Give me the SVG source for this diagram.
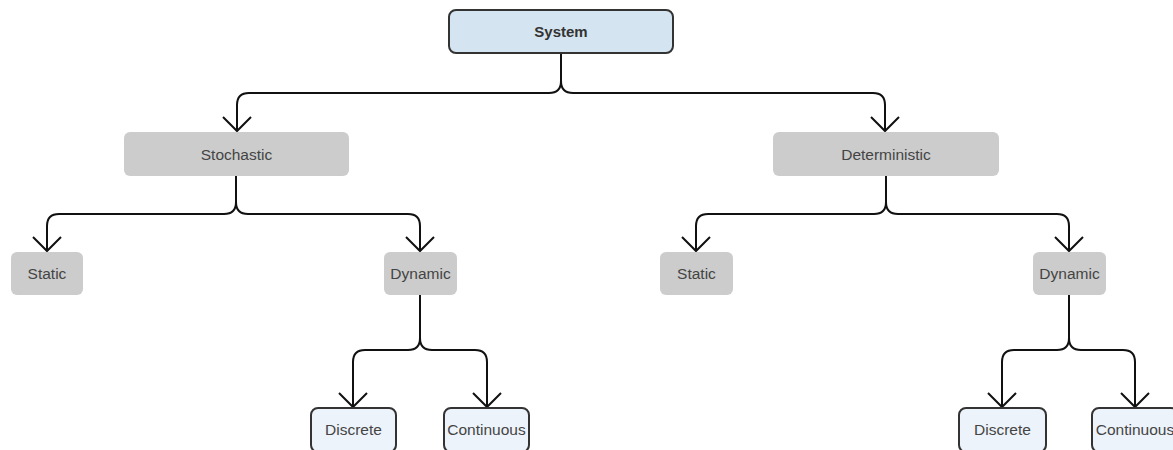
<svg xmlns="http://www.w3.org/2000/svg" width="1173" height="450" viewBox="0 0 1173 450">
<style>
.gray{fill:#cccccc;stroke:none}
.blue{fill:#d5e4f1;stroke:#333;stroke-width:2}
.leaf{fill:#edf3fa;stroke:#333;stroke-width:2}
text{font-family:"Liberation Sans",Arial,sans-serif;font-size:15.5px;fill:#444;text-anchor:middle;dominant-baseline:central}
.bold{font-weight:bold;fill:#333;font-size:15px}
.c{fill:none;stroke:#111;stroke-width:2;marker-end:url(#arr)}
</style>
<defs>
<marker id="arr" viewBox="-17 -17 19 34" refX="0" refY="0" markerWidth="19" markerHeight="34" markerUnits="userSpaceOnUse" orient="auto" overflow="visible">
<path d="M-14,-14 L0,0 L-14,14" fill="none" stroke="#111" stroke-width="2"/>
</marker>
</defs>
<rect width="1173" height="450" fill="#fff"/>
<g id="connectors">
<path class="c" d="M561,53 V81 Q561,93 549,93 H249 Q237,93 237,105 V131"/>
<path class="c" d="M561,53 V81 Q561,93 573,93 H873 Q885,93 885,105 V131"/>
<path class="c" d="M236,176 V202 Q236,214 224,214 H59 Q47,214 47,226 V251"/>
<path class="c" d="M236,176 V202 Q236,214 248,214 H408 Q420,214 420,226 V251"/>
<path class="c" d="M886,176 V202 Q886,214 874,214 H708 Q696,214 696,226 V251"/>
<path class="c" d="M886,176 V202 Q886,214 898,214 H1057 Q1069,214 1069,226 V251"/>
<path class="c" d="M420,295 V338 Q420,350 408,350 H365 Q353,350 353,362 V407"/>
<path class="c" d="M420,295 V338 Q420,350 432,350 H475 Q487,350 487,362 V407"/>
<path class="c" d="M1069,295 V338 Q1069,350 1057,350 H1014 Q1002,350 1002,362 V407"/>
<path class="c" d="M1069,295 V338 Q1069,350 1081,350 H1123 Q1135,350 1135,362 V407"/>
</g>
<g id="system"><rect class="blue" x="449" y="10" width="224" height="43" rx="7"/><text class="bold" x="561" y="31.5">System</text></g>
<g id="stochastic"><rect class="gray" x="124" y="132" width="225" height="44" rx="6"/><text x="236.5" y="154">Stochastic</text></g>
<g id="deterministic"><rect class="gray" x="773" y="132" width="226" height="44" rx="6"/><text x="886" y="154">Deterministic</text></g>
<g id="static1"><rect class="gray" x="11" y="252" width="72" height="43" rx="6"/><text x="47" y="273.5">Static</text></g>
<g id="dynamic1"><rect class="gray" x="384" y="252" width="73" height="43" rx="6"/><text x="420.5" y="273.5">Dynamic</text></g>
<g id="static2"><rect class="gray" x="660" y="252" width="73" height="43" rx="6"/><text x="696.5" y="273.5">Static</text></g>
<g id="dynamic2"><rect class="gray" x="1033" y="252" width="73" height="43" rx="6"/><text x="1069.5" y="273.5">Dynamic</text></g>
<g id="discrete1"><rect class="leaf" x="311" y="408" width="85" height="44" rx="7"/><text x="353.5" y="429">Discrete</text></g>
<g id="continuous1"><rect class="leaf" x="444" y="408" width="85" height="44" rx="7"/><text x="486.5" y="429">Continuous</text></g>
<g id="discrete2"><rect class="leaf" x="959" y="408" width="87" height="44" rx="7"/><text x="1002.5" y="429">Discrete</text></g>
<g id="continuous2"><rect class="leaf" x="1092" y="408" width="86" height="44" rx="7"/><text x="1135" y="429">Continuous</text></g>
</svg>
